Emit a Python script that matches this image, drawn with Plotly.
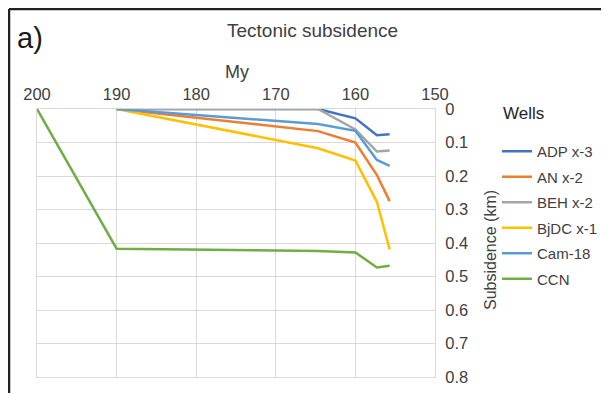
import plotly.graph_objects as go

ages = [190, 164.7, 160, 157.3, 155.7]
ccn_ages = [200, 190, 164.7, 160, 157.3, 155.7]

adp = [0, 0, 0.028, 0.078, 0.075]
an = [0, 0.066, 0.10, 0.197, 0.275]
beh = [0, 0, 0.061, 0.127, 0.124]
bjdc = [0, 0.117, 0.154, 0.277, 0.419]
cam = [0, 0.045, 0.065, 0.152, 0.170]
ccn = [0, 0.417, 0.424, 0.428, 0.473, 0.468]

names = ["ADP x-3", "AN x-2", "BEH x-2", "BjDC x-1", "Cam-18", "CCN"]
colors = ["#4472C4", "#ED7D31", "#A5A5A5", "#FFC000", "#5B9BD5", "#70AD47"]
series = [(ages, adp), (ages, an), (ages, beh), (ages, bjdc), (ages, cam), (ccn_ages, ccn)]

FONT = "Liberation Sans, Arial, sans-serif"
fig = go.Figure()
for i, (name, col, (xs, ys)) in enumerate(zip(names, colors, series)):
    fig.add_trace(go.Scatter(x=xs, y=ys, mode="lines", name=name,
                             line=dict(color=col, width=2.5), legendgroup=f"g{i}"))

# the page body adds an 8px margin; work in reference pixel coords and shift
OFF = 8
W, H = 609 - OFF, 393 - OFF
L, R, T, B = 37 - OFF, 435 - OFF, 109 - OFF, 377 - OFF
pw, ph = R - L, B - T

def px(xp):
    return (xp - OFF - L) / pw

def py(yp):
    return (B - (yp - OFF)) / ph

fig.update_layout(
    width=W, height=H,
    margin=dict(l=L, r=W - R, t=T, b=H - B, autoexpand=False),
    paper_bgcolor="white", plot_bgcolor="white",
    font=dict(family=FONT, size=15, color="#404040"),
    showlegend=True,
    legend=dict(x=px(497), y=py(135), xanchor="left", yanchor="top",
                font=dict(size=15, color="#404040"),
                traceorder="grouped", tracegroupgap=3,
                bgcolor="rgba(0,0,0,0)"),
    xaxis=dict(range=[200, 150], side="top", dtick=10, tick0=150,
               showgrid=True, gridcolor="#d9d9d9", gridwidth=1.3,
               showline=True, linecolor="#d9d9d9", mirror=True,
               zeroline=False, ticks="", ticklabelstandoff=1,
               tickfont=dict(size=16.5, color="#404040")),
    yaxis=dict(range=[0.8, 0], side="right", dtick=0.1, tick0=0,
               showgrid=True, gridcolor="#d9d9d9", gridwidth=1.3,
               showline=True, linecolor="#d9d9d9", mirror=True,
               zeroline=False, ticks="", ticklabelstandoff=6,
               tickfont=dict(size=16.5, color="#404040")),
)

annotations = [
    dict(text="Tectonic subsidence", x=px(312.5), y=py(31), font=dict(size=19, color="#404040")),
    dict(text="a)", x=px(30), y=py(38), font=dict(size=29, color="#1a1a1a")),
    dict(text="My", x=px(237), y=py(72), font=dict(size=18, color="#404040")),
    dict(text="Subsidence (km)", x=px(490), y=py(250), textangle=-90, font=dict(size=16, color="#404040")),
    dict(text="Wells", x=px(523), y=py(113), font=dict(size=17, color="#262626")),
]
for a in annotations:
    fig.add_annotation(xref="paper", yref="paper", showarrow=False,
                       xanchor="center", yanchor="middle", **a)

# outer frame (top and left edges visible)
fig.add_shape(type="line", xref="paper", yref="paper",
              x0=px(9), x1=px(620), y0=py(9), y1=py(9),
              line=dict(color="#222222", width=2.5))
fig.add_shape(type="line", xref="paper", yref="paper",
              x0=px(9), x1=px(9), y0=py(9), y1=py(400),
              line=dict(color="#222222", width=2.5))

fig.write_html("out.html")
